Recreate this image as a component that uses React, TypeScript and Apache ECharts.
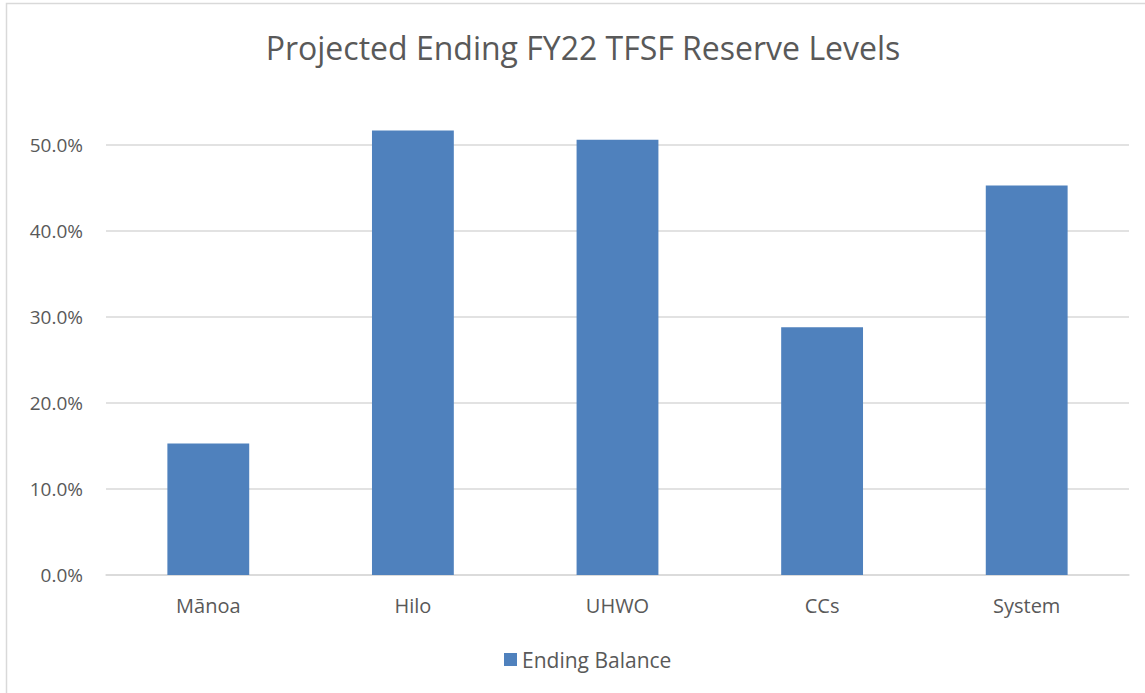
import React, { useEffect, useRef } from "react";
import * as echarts from "echarts";

const categories = ["Mānoa", "Hilo", "UHWO", "CCs", "System"];
const endingBalance = [0.153, 0.517, 0.506, 0.288, 0.453];
const seriesName = "Ending Balance";
const titleText = "Projected Ending FY22 TFSF Reserve Levels";

const FONT = "'Open Sans', 'Noto Sans', sans-serif";
const TEXT = "#595959";

export default function App() {
  const ref = useRef<HTMLDivElement>(null);
  useEffect(() => {
    const chart = echarts.init(ref.current!, null, { renderer: "svg" });
    chart.setOption({
      animation: false,
      backgroundColor: "#ffffff",
      title: {
        text: titleText,
        left: 578,
        top: 26,
        textAlign: "center",
        textStyle: { color: TEXT, fontFamily: FONT, fontSize: 32, fontWeight: "normal" },
      },
      graphic: [
        {
          type: "rect",
          shape: { x: 6.5, y: 3.5, width: 1160, height: 710 },
          style: { fill: "none", stroke: "#D9D9D9", lineWidth: 1.5 },
          silent: true,
        },
      ],
      legend: {
        data: [seriesName],
        top: 644,
        left: 499,
        itemWidth: 13,
        itemHeight: 13,
        itemGap: 6,
        icon: "rect",
        textStyle: { color: TEXT, fontFamily: FONT, fontSize: 21 },
      },
      grid: { left: 106, right: 16, top: 145, bottom: 118, containLabel: false },
      xAxis: {
        type: "category",
        data: categories,
        axisLine: { show: true, lineStyle: { color: "#D9D9D9", width: 1.5 } },
        axisTick: { show: false },
        axisLabel: { color: TEXT, fontFamily: FONT, fontSize: 20, margin: 20 },
      },
      yAxis: {
        type: "value",
        min: 0,
        max: 0.5,
        interval: 0.1,
        axisLine: { show: false },
        axisTick: { show: false },
        splitLine: { lineStyle: { color: "#D9D9D9", width: 1.5 } },
        axisLabel: {
          color: TEXT,
          fontFamily: FONT,
          fontSize: 19,
          margin: 23,
          formatter: (v: number) => (v * 100).toFixed(1) + "%",
        },
      },
      series: [
        {
          name: seriesName,
          type: "bar",
          data: endingBalance,
          barWidth: "40%",
          clip: false,
          itemStyle: { color: "#4F81BD" },
        },
      ],
    });
    return () => chart.dispose();
  }, []);
  return (
    <div
      ref={ref}
      style={{ position: "fixed", left: 0, top: 0, width: 1145, height: 693 }}
    />
  );
}
